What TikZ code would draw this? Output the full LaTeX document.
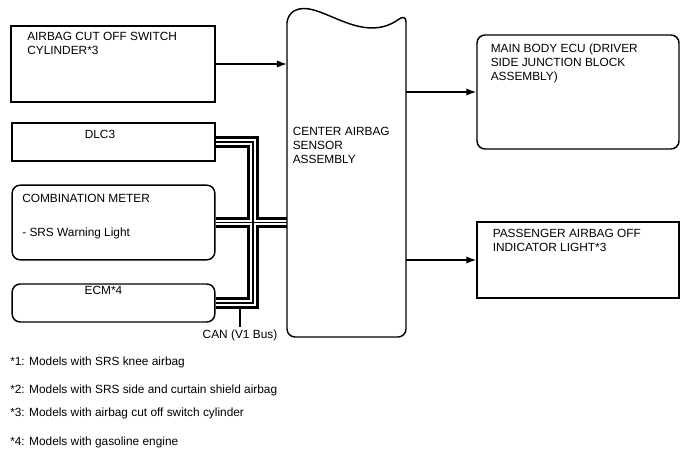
\documentclass[tikz,border=0pt]{standalone}
\usepackage{fontspec}
\setmainfont{Liberation Sans}
\usetikzlibrary{arrows.meta,backgrounds}

\begin{document}
\begin{tikzpicture}[x=0.75pt,y=-0.75pt,
	txt/.style={inner sep=0pt,align=left,font=\fontsize{8.9}{10.6}\selectfont},
	sqbox/.style={draw,line width=1.1pt,inner sep=0pt},
	rdbox/.style={sqbox,rounded corners=6pt},
	link/.style={line width=1.1pt,->,>={Latex[length=7.5pt,width=5.5pt]}}]
	\useasboundingbox (0,0) rectangle (688,463);

	%boxes
	\node[sqbox,minimum width=153pt,minimum height=57pt] (acs) at (113,64) {};
	\node[sqbox,minimum width=152pt,minimum height=28.5pt] (dlc) at (113.5,142) {};
	\node[rdbox,minimum width=152pt,minimum height=56pt] (meter) at (113.5,222.5) {};
	\node[rdbox,minimum width=152pt,minimum height=28.5pt] (ecm) at (113.5,303) {};
	\node[inner sep=0pt,minimum width=89pt,minimum height=243pt] (sensor) at (346.5,175) {};
	\node[rdbox,minimum width=151.5pt,minimum height=85.5pt] (mainecu) at (578,92) {};
	\node[sqbox,minimum width=151.5pt,minimum height=57pt] (paoil) at (578,260) {};

	%center box outline, wavy top
	\draw[line width=1.1pt,rounded corners=6pt] (287,15) .. controls (318,-3) and (360,48) .. (406,14)
		-- (406,337) -- (287,337) -- cycle;

	%inner labels
	\node[txt,anchor=north west] (acstxt) at (27,32) {AIRBAG CUT OFF SWITCH\\CYLINDER*3};
	\node[txt,anchor=north] (dlctxt) at (100,129.5) {DLC3};
	\node[txt,anchor=north west] (metertxt) at (22,193.5) {COMBINATION METER};
	\node[txt,anchor=north west] (srstxt) at (22,227.5) {- SRS Warning Light};
	\node[txt,anchor=north] (ecmtxt) at (103.5,285.5) {ECM*4};
	\node[txt,anchor=north west] (sensortxt) at (292.5,127) {CENTER AIRBAG\\SENSOR\\ASSEMBLY};
	\node[txt,anchor=north west] (mainecutxt) at (490.5,43.5) {MAIN BODY ECU (DRIVER\\SIDE JUNCTION BLOCK\\ASSEMBLY)};
	\node[txt,anchor=north west] (paoiltxt) at (492.5,229) {PASSENGER AIRBAG OFF\\INDICATOR LIGHT*3};

	%arrows
	\draw[link] (acs.east) -- (acs.east -| sensor.west);
	\draw[link] (mainecu.west -| sensor.east) -- (mainecu.west);
	\draw[link] (paoil.west -| sensor.east) -- (paoil.west);

	%CAN bus
	\coordinate (busx) at (253,0);
	\begin{scope}[on background layer]
	\foreach \busw/\busc in {8.5/black,4/white,0.8/black}{
		\draw[line width=\busw pt,\busc,line join=miter] (dlc.east) -- (dlc.east -| busx) -- (ecm.east -| busx) -- (ecm.east);
		\draw[line width=\busw pt,\busc] (meter.east) -- (meter.east -| sensor.west);
	}
	\end{scope}
	\node[txt,anchor=north] (can) at (240,330) {CAN (V1 Bus)};
	\coordinate (canpt) at (240,308.5);
	\draw[line width=0.8pt] (canpt) -- ([yshift=2pt]can.north);

	%notes
	\node[txt,anchor=north west] (note1) at (10,357) {*1: Models with SRS knee airbag};
	\node[txt,anchor=north west] (note2) at (10,384.5) {*2: Models with SRS side and curtain shield airbag};
	\node[txt,anchor=north west] (note3) at (10,408) {*3: Models with airbag cut off switch cylinder};
	\node[txt,anchor=north west] (note4) at (10,436.5) {*4: Models with gasoline engine};
\end{tikzpicture}
\end{document}
